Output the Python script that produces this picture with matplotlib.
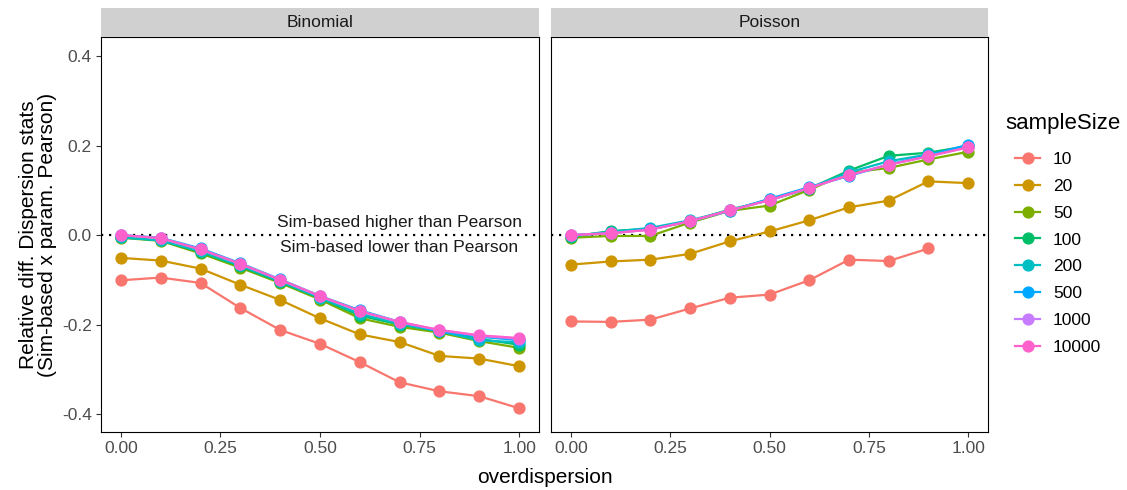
import numpy as np
import matplotlib.pyplot as plt
from matplotlib.lines import Line2D

plt.rcParams['font.family'] = ['Liberation Sans', 'DejaVu Sans']

# overdispersion levels on the x axis
overdispersion = [0.0, 0.1, 0.2, 0.3, 0.4, 0.5, 0.6, 0.7, 0.8, 0.9, 1.0]
sample_sizes = ["10", "20", "50", "100", "200", "500", "1000", "10000"]
colors = ["#F8766D", "#CD9600", "#7CAE00", "#00BE67", "#00BFC4", "#00A9FF", "#C77CFF", "#FF61CC"]

# Binomial panel, one list per sample size
binom_10 = [-0.101, -0.095, -0.107, -0.163, -0.212, -0.243, -0.284, -0.329, -0.349, -0.360, -0.387]
binom_20 = [-0.051, -0.057, -0.075, -0.111, -0.145, -0.186, -0.222, -0.239, -0.270, -0.276, -0.293]
binom_50 = [-0.006, -0.013, -0.041, -0.073, -0.107, -0.144, -0.186, -0.205, -0.218, -0.237, -0.252]
binom_100 = [-0.005, -0.012, -0.038, -0.070, -0.105, -0.141, -0.180, -0.200, -0.215, -0.232, -0.245]
binom_200 = [-0.005, -0.012, -0.036, -0.068, -0.103, -0.140, -0.176, -0.198, -0.215, -0.235, -0.240]
binom_500 = [0.000, -0.006, -0.030, -0.063, -0.099, -0.136, -0.168, -0.194, -0.215, -0.227, -0.235]
binom_1000 = [0.000, -0.007, -0.032, -0.065, -0.100, -0.137, -0.170, -0.195, -0.212, -0.225, -0.232]
binom_10000 = [0.000, -0.007, -0.032, -0.064, -0.100, -0.136, -0.170, -0.194, -0.212, -0.224, -0.230]

# Poisson panel (n=10 has no value at 1.0)
pois_10 = [-0.193, -0.194, -0.189, -0.164, -0.140, -0.133, -0.101, -0.055, -0.058, -0.030, np.nan]
pois_20 = [-0.066, -0.059, -0.055, -0.042, -0.014, 0.008, 0.033, 0.062, 0.077, 0.120, 0.116]
pois_50 = [-0.006, -0.002, -0.002, 0.028, 0.054, 0.066, 0.101, 0.139, 0.150, 0.169, 0.186]
pois_100 = [-0.004, 0.009, 0.014, 0.031, 0.057, 0.078, 0.104, 0.144, 0.177, 0.184, 0.199]
pois_200 = [-0.002, 0.007, 0.016, 0.033, 0.055, 0.080, 0.105, 0.140, 0.165, 0.180, 0.199]
pois_500 = [0.000, 0.004, 0.013, 0.031, 0.054, 0.081, 0.107, 0.132, 0.158, 0.178, 0.202]
pois_1000 = [0.000, 0.004, 0.012, 0.031, 0.055, 0.078, 0.105, 0.134, 0.157, 0.176, 0.196]
pois_10000 = [0.000, 0.004, 0.012, 0.031, 0.055, 0.078, 0.105, 0.134, 0.157, 0.176, 0.196]

binom = [binom_10, binom_20, binom_50, binom_100, binom_200, binom_500, binom_1000, binom_10000]
pois = [pois_10, pois_20, pois_50, pois_100, pois_200, pois_500, pois_1000, pois_10000]

fig = plt.figure(figsize=(11.27, 4.9), dpi=100)
W, H = 1127, 490

def box(x0, x1, y0, y1):
    # pixel box -> figure fraction rect
    return [x0 / W, 1 - y1 / H, (x1 - x0) / W, (y1 - y0) / H]

panels = [("Binomial", binom, 101, 539), ("Poisson", pois, 551, 988)]
axes = []
for name, data, x0, x1 in panels:
    ax = fig.add_axes(box(x0, x1, 37, 432))
    strip = fig.add_axes(box(x0, x1, 8, 37))
    strip.set_facecolor("#D0D0D0")
    strip.set_xticks([])
    strip.set_yticks([])
    for s in strip.spines.values():
        s.set_visible(False)
    strip.text(0.5, 0.5, name, ha="center", va="center", fontsize=12.5, color="#1A1A1A",
               transform=strip.transAxes)

    ax.axhline(0, color="black", linestyle=(0, (1, 2.6)), linewidth=1.6, zorder=1)
    for vals, col in zip(data, colors):
        ax.plot(overdispersion, vals, color=col, linewidth=1.6, marker="o",
                markersize=7.8, zorder=2)
    ax.set_xlim(-0.05, 1.05)
    ax.set_ylim(-0.440, 0.4425)
    ax.set_xticks([0, 0.25, 0.5, 0.75, 1.0])
    ax.set_xticklabels(["0.00", "0.25", "0.50", "0.75", "1.00"])
    ax.set_yticks([-0.4, -0.2, 0.0, 0.2, 0.4])
    ax.set_yticklabels(["-0.4", "-0.2", "0.0", "0.2", "0.4"])
    ax.tick_params(length=3.5, width=0.8, color="#333333", labelsize=12.5,
                   labelcolor="#4D4D4D", pad=3)
    for s in ax.spines.values():
        s.set_linewidth(0.8)
    axes.append(ax)

axes[1].tick_params(axis="y", left=False, labelleft=False)

axes[0].text(1.008, 0.028, "Sim-based higher than Pearson", ha="right", va="center",
             fontsize=12.5, color="#1A1A1A")
axes[0].text(0.998, -0.027, "Sim-based lower than Pearson", ha="right", va="center",
             fontsize=12.5, color="#1A1A1A")

axes[0].set_ylabel("Relative diff. Dispersion stats\n(Sim-based x param. Pearson)",
                   fontsize=15, labelpad=4, linespacing=1.0)
fig.text(545 / W, 1 - 477 / H, "overdispersion", ha="center", va="center", fontsize=15)

# legend: title as separate text so the keys can be indented like ggplot
fig.text(1005 / W, 1 - 124 / H, "sampleSize", ha="left", va="center", fontsize=16)
handles = [Line2D([0], [0], color=c, linewidth=1.6, marker="o", markersize=7.8) for c in colors]
leg = fig.legend(handles, sample_sizes, loc="upper left",
                 bbox_to_anchor=(1015 / W, 1 - 152 / H), frameon=False, fontsize=12.5,
                 borderpad=0, borderaxespad=0, handlelength=1.44, labelspacing=0.67,
                 handletextpad=0.75)

fig.savefig("out.png", dpi=100)
